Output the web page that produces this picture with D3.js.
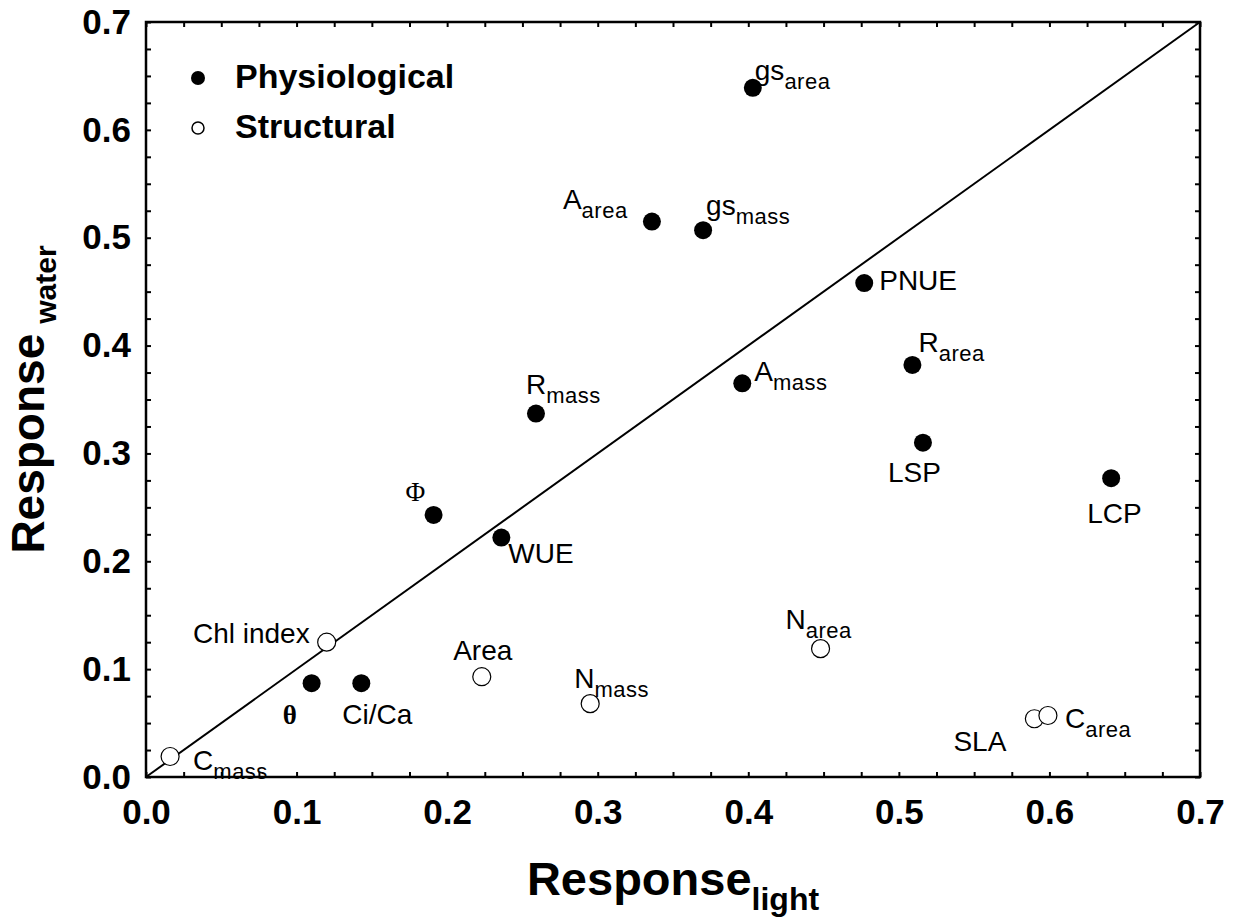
<!DOCTYPE html>
<html>
<head>
<meta charset="utf-8">
<script src="https://cdn.jsdelivr.net/npm/d3@7"></script>
<style>
  body { margin: 0; background: #fff; }
  svg { display: block; font-family: "Liberation Sans", Arial, sans-serif; }
</style>
</head>
<body>
<div id="chart"></div>
<script>
// trait names, their label text (main + subscript), and response values
const traits   = ["gs_area", "A_area", "gs_mass", "PNUE", "R_area", "A_mass", "R_mass", "LSP", "LCP", "Phi", "WUE",
                  "Chl", "theta", "CiCa", "Area", "N_mass", "N_area", "SLA", "C_area", "C_mass"];
const mainText = ["gs", "A", "gs", "PNUE", "R", "A", "R", "LSP", "LCP", "\u03A6", "WUE",
                  "Chl index", "\u03B8", "Ci/Ca", "Area", "N", "N", "SLA", "C", "C"];
const subText  = ["area", "area", "mass", "", "area", "mass", "mass", "", "", "", "",
                  "", "", "", "", "mass", "area", "", "area", "mass"];
const traitType = ["Physiological", "Physiological", "Physiological", "Physiological", "Physiological", "Physiological",
                   "Physiological", "Physiological", "Physiological", "Physiological", "Physiological",
                   "Structural", "Physiological", "Physiological", "Structural", "Structural", "Structural",
                   "Structural", "Structural", "Structural"];
const responseLight = [0.403, 0.336, 0.370, 0.477, 0.509, 0.396, 0.259, 0.516, 0.641, 0.191, 0.236,
                       0.120, 0.110, 0.143, 0.223, 0.295, 0.448, 0.590, 0.599, 0.016];
const responseWater = [0.639, 0.515, 0.507, 0.458, 0.382, 0.365, 0.337, 0.310, 0.277, 0.243, 0.222,
                       0.125, 0.087, 0.087, 0.093, 0.068, 0.119, 0.054, 0.057, 0.019];
const tickValues = [0, 0.1, 0.2, 0.3, 0.4, 0.5, 0.6, 0.7];
const legendItems = ["Physiological", "Structural"];

// label placement relative to each point (layout only)
const labelPlace = {
  gs_area: { dx: 2, dy: -8 },   A_area: { dx: -89, dy: -13 }, gs_mass: { dx: 3, dy: -15 },
  PNUE: { dx: 15, dy: 7 },      R_area: { dx: 6, dy: -13 },   A_mass: { dx: 12, dy: -2 },
  R_mass: { dx: -10, dy: -20 }, LSP: { dx: -35, dy: 39 },     LCP: { dx: -24, dy: 45 },
  Phi: { dx: -28, dy: -14, serif: true }, WUE: { dx: 7, dy: 25 },
  Chl: { dx: -17, dy: 1, anchor: "end" }, theta: { dx: -29, dy: 41, serif: true, bold: true },
  CiCa: { dx: -19, dy: 41 },    Area: { dx: 1, dy: -17, anchor: "middle" },
  N_mass: { dx: -16, dy: -16 }, N_area: { dx: -35, dy: -20 },
  SLA: { dx: -28, dy: 32, anchor: "end" }, C_area: { dx: 17, dy: 12 }, C_mass: { dx: 23, dy: 13 }
};

const data = traits.map((t, i) => ({
  key: t, main: mainText[i], sub: subText[i], type: traitType[i],
  x: responseLight[i], y: responseWater[i]
}));

const width = 1236, height = 918;
const margin = { top: 22, right: 36, bottom: 141, left: 146 };

const svg = d3.select("#chart").append("svg")
  .attr("width", width)
  .attr("height", height);

const x = d3.scaleLinear().domain([0, 0.7]).range([margin.left, width - margin.right]);
const y = d3.scaleLinear().domain([0, 0.7]).range([height - margin.bottom, margin.top]);

// minor ticks every 0.025, pointing inward on all four sides
const minor = d3.range(0, 0.7001, 0.025);
const tickLen = 5;
function tickAxis(axis, transform) {
  svg.append("g")
    .attr("transform", transform)
    .call(axis.tickValues(minor).tickSize(-tickLen).tickFormat(""))
    .call(g => g.select(".domain").remove())
    .selectAll("line").attr("stroke", "#000").attr("stroke-width", 2);
}
tickAxis(d3.axisBottom(x), `translate(0,${y(0)})`);
tickAxis(d3.axisTop(x), `translate(0,${y(0.7)})`);
tickAxis(d3.axisLeft(y), `translate(${x(0)},0)`);
tickAxis(d3.axisRight(y), `translate(${x(0.7)},0)`);

// tick labels
svg.append("g")
  .attr("transform", `translate(0,${y(0)})`)
  .call(d3.axisBottom(x).tickValues(tickValues).tickSize(0).tickPadding(22).tickFormat(d3.format(".1f")))
  .call(g => g.select(".domain").remove())
  .selectAll("text")
  .attr("font-family", "Liberation Sans, Arial, sans-serif")
  .attr("font-size", 35).attr("font-weight", "bold").attr("fill", "#000");

svg.append("g")
  .attr("transform", `translate(${x(0)},0)`)
  .call(d3.axisLeft(y).tickValues(tickValues).tickSize(0).tickPadding(15).tickFormat(d3.format(".1f")))
  .call(g => g.select(".domain").remove())
  .selectAll("text")
  .attr("font-family", "Liberation Sans, Arial, sans-serif")
  .attr("font-size", 35).attr("font-weight", "bold").attr("fill", "#000");

// plot frame
svg.append("rect")
  .attr("x", x(0)).attr("y", y(0.7))
  .attr("width", x(0.7) - x(0)).attr("height", y(0) - y(0.7))
  .attr("fill", "none").attr("stroke", "#000").attr("stroke-width", 2.5);

// 1:1 line
svg.append("line")
  .attr("x1", x(0)).attr("y1", y(0))
  .attr("x2", x(0.7)).attr("y2", y(0.7))
  .attr("stroke", "#000").attr("stroke-width", 2);

// points
svg.selectAll("circle.pt")
  .data(data)
  .enter()
  .append("circle")
  .attr("class", "pt")
  .attr("cx", d => x(d.x))
  .attr("cy", d => y(d.y))
  .attr("r", 9)
  .attr("fill", d => d.type === "Physiological" ? "#000" : "#fff")
  .attr("stroke", "#000")
  .attr("stroke-width", d => d.type === "Physiological" ? 0 : 1.2);

// point labels with subscripts
const labels = svg.selectAll("text.lbl")
  .data(data)
  .enter()
  .append("text")
  .attr("class", "lbl")
  .attr("x", d => x(d.x) + labelPlace[d.key].dx)
  .attr("y", d => y(d.y) + labelPlace[d.key].dy)
  .attr("text-anchor", d => labelPlace[d.key].anchor || "start")
  .attr("font-family", d => labelPlace[d.key].serif ? "Liberation Serif, Times New Roman, serif" : "Liberation Sans, Arial, sans-serif")
  .attr("font-weight", d => labelPlace[d.key].bold ? "bold" : "normal")
  .attr("font-size", d => labelPlace[d.key].serif ? 27 : 28);

labels.append("tspan").text(d => d.main);
labels.filter(d => d.sub)
  .append("tspan")
  .attr("dy", 9)
  .attr("font-size", 22)
  .attr("letter-spacing", 0.5)
  .text(d => d.sub);

// legend
const legend = svg.append("g").attr("transform", "translate(198,78)");
legendItems.forEach((name, i) => {
  legend.append("circle")
    .attr("cx", 0).attr("cy", i * 50)
    .attr("r", i === 0 ? 7 : 6)
    .attr("fill", i === 0 ? "#000" : "#fff")
    .attr("stroke", "#000").attr("stroke-width", i === 0 ? 0 : 1.5);
  legend.append("text")
    .attr("x", 37).attr("y", i * 50 + 10)
    .attr("font-size", 34).attr("font-weight", "bold")
    .text(name);
});

// axis titles
const xTitle = svg.append("text")
  .attr("x", (x(0) + x(0.7)) / 2)
  .attr("y", 895)
  .attr("text-anchor", "middle")
  .attr("font-weight", "bold");
xTitle.append("tspan").attr("font-size", 47).text("Response");
xTitle.append("tspan").attr("font-size", 32).attr("dy", 15).text("light");

const yTitle = svg.append("text")
  .attr("transform", `translate(44,${(y(0) + y(0.7)) / 2}) rotate(-90)`)
  .attr("text-anchor", "middle")
  .attr("font-weight", "bold");
yTitle.append("tspan").attr("font-size", 46).text("Response");
yTitle.append("tspan").attr("font-size", 30).attr("dx", 10).attr("dy", 12).text("water");
</script>
</body>
</html>
